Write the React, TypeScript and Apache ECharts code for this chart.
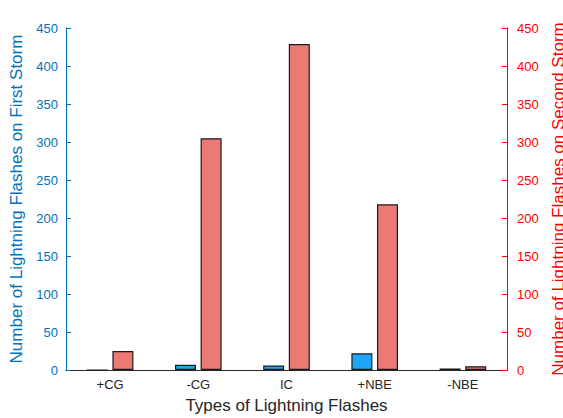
import React, { useEffect, useRef } from "react";
import * as echarts from "echarts";

const categories = ["+CG", "-CG", "IC", "+NBE", "-NBE"];
const firstStorm = [0, 7, 6, 22, 2];
const secondStorm = [25, 305, 429, 218, 5];
const yTicks = { min: 0, max: 450, interval: 50 };

export default function App() {
  const ref = useRef<HTMLDivElement>(null);
  useEffect(() => {
    if (!ref.current) return;
    const chart = echarts.init(ref.current, null, { renderer: "svg" });
    const font = "Liberation Sans, Arial, sans-serif";
    chart.setOption({
      animation: false,
      grid: { left: 66, right: 56, top: 28, bottom: 48, outerBoundsMode: "none", containLabel: false },
      xAxis: [
        {
          type: "category",
          data: categories,
          position: "bottom",
          name: "Types of Lightning Flashes",
          nameLocation: "middle",
          nameGap: 27,
          nameTextStyle: { fontSize: 17, color: "#262626", fontFamily: font },
          axisLine: { lineStyle: { color: "#262626", width: 1 } },
          axisTick: { inside: true, alignWithLabel: true, length: 5, lineStyle: { color: "#262626" } },
          axisLabel: { fontSize: 13, color: "#262626", fontFamily: font, margin: 8 },
          splitLine: { show: false },
        },
        {
          type: "category",
          data: categories,
          position: "top",
          axisLine: { lineStyle: { color: "#262626", width: 1 } },
          axisTick: { inside: true, alignWithLabel: true, length: 5, lineStyle: { color: "#262626" } },
          axisLabel: { show: false },
          splitLine: { show: false },
        },
      ],
      yAxis: [
        {
          type: "value",
          position: "left",
          ...yTicks,
          name: "Number of Lightning Flashes on First Storm",
          nameLocation: "middle",
          nameRotate: 90,
          nameGap: 35,
          nameTextStyle: { fontSize: 17, color: "#0072BD", fontFamily: font },
          axisLine: { show: true, lineStyle: { color: "#0072BD", width: 1 } },
          axisTick: { show: true, inside: true, length: 5, lineStyle: { color: "#0072BD" } },
          axisLabel: { fontSize: 13, color: "#0072BD", fontFamily: font, margin: 8 },
          splitLine: { show: false },
        },
        {
          type: "value",
          position: "right",
          ...yTicks,
          name: "Number of Lightning Flashes on Second Storm",
          nameLocation: "middle",
          nameRotate: 90,
          nameGap: 39,
          nameTextStyle: { fontSize: 17, color: "#FF0000", fontFamily: font },
          axisLine: { show: true, lineStyle: { color: "#FF0000", width: 1 } },
          axisTick: { show: true, inside: true, length: 5, lineStyle: { color: "#FF0000" } },
          axisLabel: { fontSize: 13, color: "#FF0000", fontFamily: font, margin: 10 },
          splitLine: { show: false },
        },
      ],
      series: [
        {
          type: "bar",
          name: "First Storm",
          data: firstStorm,
          xAxisIndex: 0,
          yAxisIndex: 0,
          barWidth: 21,
          barGap: "22%",
          itemStyle: { color: "#1CA6F5", borderColor: "#1a1a1a", borderWidth: 1.2 },
        },
        {
          type: "bar",
          name: "Second Storm",
          data: secondStorm,
          xAxisIndex: 0,
          yAxisIndex: 1,
          barWidth: 21,
          barGap: "22%",
          itemStyle: { color: "#EC7A74", borderColor: "#1a1a1a", borderWidth: 1.2 },
        },
      ],
    });
    return () => chart.dispose();
  }, []);
  return <div ref={ref} style={{ width: 563, height: 418, position: "absolute", left: 0, top: 0, background: "#fff" }} />;
}
